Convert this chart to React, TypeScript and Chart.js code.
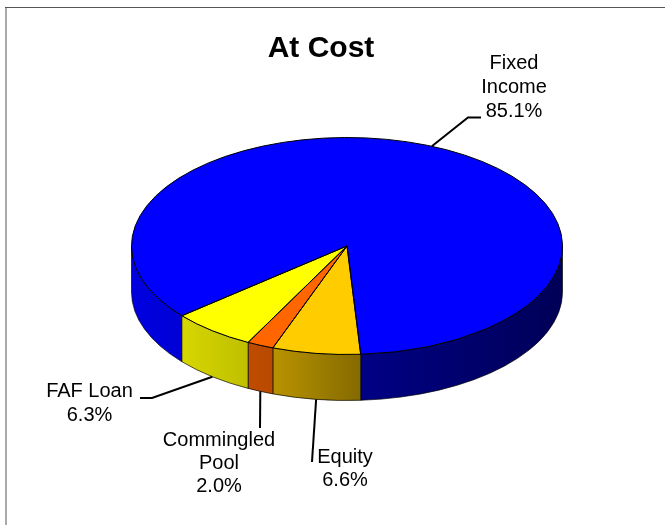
import React, { useEffect, useRef } from "react";
import { Chart, registerables } from "chart.js";

Chart.register(...registerables);

// Portfolio shares, in drawing order (clockwise from the start angle).
const categories = ["Fixed Income", "Equity", "Commingled Pool", "FAF Loan"];
const shares = [85.1, 6.6, 2.0, 6.3];
const sliceColors: number[][] = [
  [0, 0, 255],
  [255, 204, 0],
  [255, 102, 0],
  [255, 255, 0],
];
const labelLines = [["Fixed", "Income"], ["Equity"], ["Commingled", "Pool"], ["FAF Loan"]];

// Tilted disc geometry.
const CENTER_X = 347;
const CENTER_Y = 246;
const RADIUS_X = 215.5;
const RADIUS_Y = 108.5;
const DEPTH = 46;
const START_ANGLE = 230;

// Callout layout per slice: label centre, first line's middle, line spacing, leader bends.
const callouts = [
  { x: 514, y: 63, leading: 24, path: [[468, 117.5], [481, 117.5]] },
  { x: 345, y: 457, leading: 23, path: [[312, 462]] },
  { x: 219, y: 440, leading: 23, path: [[260, 428]] },
  { x: 89.5, y: 391, leading: 24.5, path: [[152, 398], [140, 398]] },
];

// Side-wall lighting: brightness falls off from left to right.
const wallLight: [number, number][] = [
  [0, 0.88],
  [0.12, 0.84],
  [0.27, 0.75],
  [0.33, 0.72],
  [0.53, 0.52],
  [1, 0.34],
];

const shade = (rgb: number[], k: number) =>
  `rgb(${rgb.map((c) => Math.round(c * k)).join(",")})`;

const ellipsePath = (ctx: CanvasRenderingContext2D, a: number, b: number, dy: number, ccw = false) => {
  ctx.ellipse(CENTER_X, CENTER_Y + dy, RADIUS_X, RADIUS_Y, 0, a, b, ccw);
};

// Parts of a slice that face the viewer (canvas angles between 0 and PI).
const frontSpans = (start: number, end: number) => {
  const spans: [number, number][] = [];
  for (let k = -2; k <= 2; k++) {
    const a = Math.max(start + k * 2 * Math.PI, 0);
    const b = Math.min(end + k * 2 * Math.PI, Math.PI);
    if (b > a) spans.push([a, b]);
  }
  return spans;
};

const tiltedPie = {
  id: "tiltedPie",
  beforeDraw(chart: Chart) {
    const { ctx, width, height } = chart;
    ctx.save();
    ctx.fillStyle = "#ffffff";
    ctx.fillRect(0, 0, width, height);
    ctx.fillStyle = "#aaaaaa";
    ctx.fillRect(5, 7, 2, height - 7);
    ctx.fillStyle = "#555555";
    ctx.fillRect(5, 7, width - 5, 1);
    ctx.restore();
  },
  beforeDatasetsDraw(chart: Chart) {
    const { ctx } = chart;
    const arcs = chart.getDatasetMeta(0).data as any[];

    ctx.save();
    arcs.forEach((arc, i) => {
      frontSpans(arc.startAngle, arc.endAngle).forEach(([a, b]) => {
        const grad = ctx.createLinearGradient(CENTER_X - RADIUS_X, 0, CENTER_X + RADIUS_X, 0);
        wallLight.forEach(([stop, k]) => grad.addColorStop(stop, shade(sliceColors[i], k)));
        ctx.beginPath();
        ellipsePath(ctx, a, b, 0);
        ellipsePath(ctx, b, a, DEPTH, true);
        ctx.closePath();
        ctx.fillStyle = grad;
        ctx.fill();
        ctx.strokeStyle = "rgba(0,0,0,0.85)";
        ctx.lineWidth = 0.8;
        ctx.stroke();
      });
    });
    ctx.restore();

    const first = arcs[0];
    ctx.save();
    ctx.translate(CENTER_X, CENTER_Y);
    ctx.scale(1, RADIUS_Y / RADIUS_X);
    ctx.translate(-first.x, -first.y);
  },
  afterDatasetsDraw(chart: Chart) {
    const { ctx } = chart;
    ctx.restore();
    const arcs = chart.getDatasetMeta(0).data as any[];

    // Slice outlines on the top face, kept at an even pen width.
    ctx.save();
    ctx.strokeStyle = "#000000";
    ctx.lineWidth = 1;
    ctx.lineJoin = "round";
    arcs.forEach((arc) => {
      ctx.beginPath();
      ctx.moveTo(CENTER_X, CENTER_Y);
      ellipsePath(ctx, arc.startAngle, arc.endAngle, 0);
      ctx.closePath();
      ctx.stroke();
    });
    ctx.restore();

    // Leader lines and value labels.
    ctx.save();
    ctx.font = '20px "Liberation Sans"';
    ctx.textAlign = "center";
    ctx.textBaseline = "middle";
    ctx.fillStyle = "#000000";
    arcs.forEach((arc, i) => {
      const mid = (arc.startAngle + arc.endAngle) / 2;
      const sx = CENTER_X + RADIUS_X * Math.cos(mid);
      const sy = CENTER_Y + RADIUS_Y * Math.sin(mid) + (Math.sin(mid) > 0 ? DEPTH : 0);
      ctx.beginPath();
      ctx.moveTo(sx, sy);
      callouts[i].path.forEach(([x, y]) => ctx.lineTo(x, y));
      ctx.strokeStyle = "#000000";
      ctx.lineWidth = 2;
      ctx.stroke();

      const lines = [...labelLines[i], `${shares[i].toFixed(1)}%`];
      lines.forEach((line, n) => {
        ctx.fillText(line, callouts[i].x, callouts[i].y + n * callouts[i].leading);
      });
    });
    ctx.restore();
  },
};

export default function App() {
  const canvasRef = useRef<HTMLCanvasElement>(null);

  useEffect(() => {
    const chart = new Chart(canvasRef.current as HTMLCanvasElement, {
      type: "pie",
      data: {
        labels: categories,
        datasets: [
          {
            data: shares,
            backgroundColor: sliceColors.map((c) => shade(c, 1)),
            borderWidth: 0,
            radius: RADIUS_X,
            rotation: START_ANGLE,
            clip: false,
          } as any,
        ],
      },
      options: {
        responsive: false,
        animation: false,
        layout: { padding: { top: 31, right: 23 } },
        plugins: {
          legend: { display: false },
          tooltip: { enabled: false },
          title: {
            display: true,
            text: "At Cost",
            fullSize: false,
            color: "#000000",
            padding: 0,
            font: { family: '"Liberation Sans"', size: 30, weight: "bold" },
          },
        },
      },
      plugins: [tiltedPie],
    });
    return () => chart.destroy();
  }, []);

  return (
    <div style={{ position: "fixed", left: 0, top: 0, width: 665, height: 525 }}>
      <canvas ref={canvasRef} width={665} height={525} style={{ display: "block" }} />
    </div>
  );
}
